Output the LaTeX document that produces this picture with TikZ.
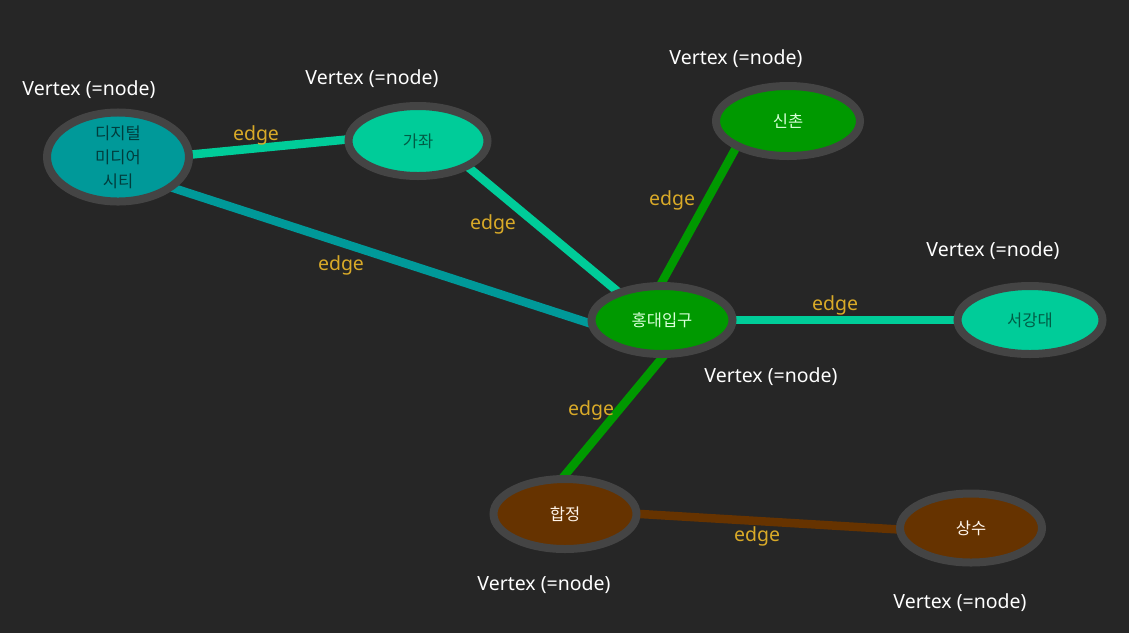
\documentclass[tikz,border=0pt]{standalone}
\usepackage{fontspec}
\setmainfont{Noto Sans}
\newfontfamily\kr{Noto Sans CJK KR}
\usetikzlibrary{shapes.geometric}
\pgfdeclarelayer{back}
\pgfdeclarelayer{bg}
\pgfsetlayers{back,bg,main}
\definecolor{bgc}{HTML}{262626}
\definecolor{ring}{HTML}{444444}
\definecolor{cteal}{HTML}{009999}
\definecolor{cturq}{HTML}{00CC99}
\definecolor{cgreen}{HTML}{009900}
\definecolor{cbrown}{HTML}{663300}
\definecolor{gold}{HTML}{D9AA28}
\tikzset{
  vtx/.style={ellipse, draw=ring, line width=8pt, inner sep=0pt, font=\kr\fontsize{16.5}{24}\selectfont, align=center},
  vteal/.style={vtx, fill=cteal, text=cteal!40!black},
  vturq/.style={vtx, fill=cturq, text=cturq!45!black},
  vgreen/.style={vtx, fill=cgreen, text=green!15!white},
  vbrown/.style={vtx, fill=cbrown, text=white!92!orange},
  edg/.style={line width=8.5pt, shorten <=-6pt, shorten >=-6pt},
  elab/.style={text=gold, font=\fontsize{19.5}{22}\selectfont},
  vlab/.style={text=white, font=\fontsize{19.5}{22}\selectfont}
}
\begin{document}
\begin{tikzpicture}[x=1pt,y=-1pt]
\begin{pgfonlayer}{back}
\fill[bgc] (0,0) rectangle (1129,633);
\end{pgfonlayer}
\useasboundingbox (0,0) rectangle (1129,633);
% vertices
\node[vteal, minimum width=142pt, minimum height=88pt] (dmc) at (118,157) {디지털\\미디어\\시티};
\node[vturq, minimum width=139pt, minimum height=70pt] (gj) at (418,141) {가좌};
\node[vgreen, minimum width=144pt, minimum height=70pt] (sc) at (788,121) {신촌};
\node[vgreen, minimum width=141pt, minimum height=68pt] (hd) at (662,320) {홍대입구};
\node[vturq, minimum width=145pt, minimum height=68pt] (sg) at (1030,320) {서강대};
\node[vbrown, minimum width=143pt, minimum height=70pt] (hj) at (565,514) {합정};
\node[vbrown, minimum width=142pt, minimum height=69pt] (ss) at (971,528) {상수};
% edges
\begin{pgfonlayer}{bg}
\draw[edg, cturq] (dmc.2) -- (gj.179);
\draw[edg, cteal] (dmc.-29) -- (hd.182);
\draw[edg, cturq] (gj.-28) -- (hd.147);
\draw[edg, cgreen] (sc.-152) -- (hd.90);
\draw[edg, cturq] (hd.0) -- (sg.180);
\draw[edg, cgreen] (hd.-90) -- (hj.90);
\draw[edg, cbrown] (hj.0) -- (ss.181);
\end{pgfonlayer}
% edge labels
\node[elab] (l1) at (256,135) {edge};
\node[elab] (l2) at (493,224) {edge};
\node[elab] (l3) at (341,265) {edge};
\node[elab] (l4) at (672,200) {edge};
\node[elab] (l5) at (835,305) {edge};
\node[elab] (l6) at (591,410) {edge};
\node[elab] (l7) at (757,536) {edge};
% vertex labels
\node[vlab] (v1) at (89,90) {Vertex (=node)};
\node[vlab] (v2) at (372,79) {Vertex (=node)};
\node[vlab] (v3) at (736,59) {Vertex (=node)};
\node[vlab] (v4) at (993,251) {Vertex (=node)};
\node[vlab] (v5) at (771,377) {Vertex (=node)};
\node[vlab] (v6) at (544,585) {Vertex (=node)};
\node[vlab] (v7) at (960,603) {Vertex (=node)};
\end{tikzpicture}
\end{document}
